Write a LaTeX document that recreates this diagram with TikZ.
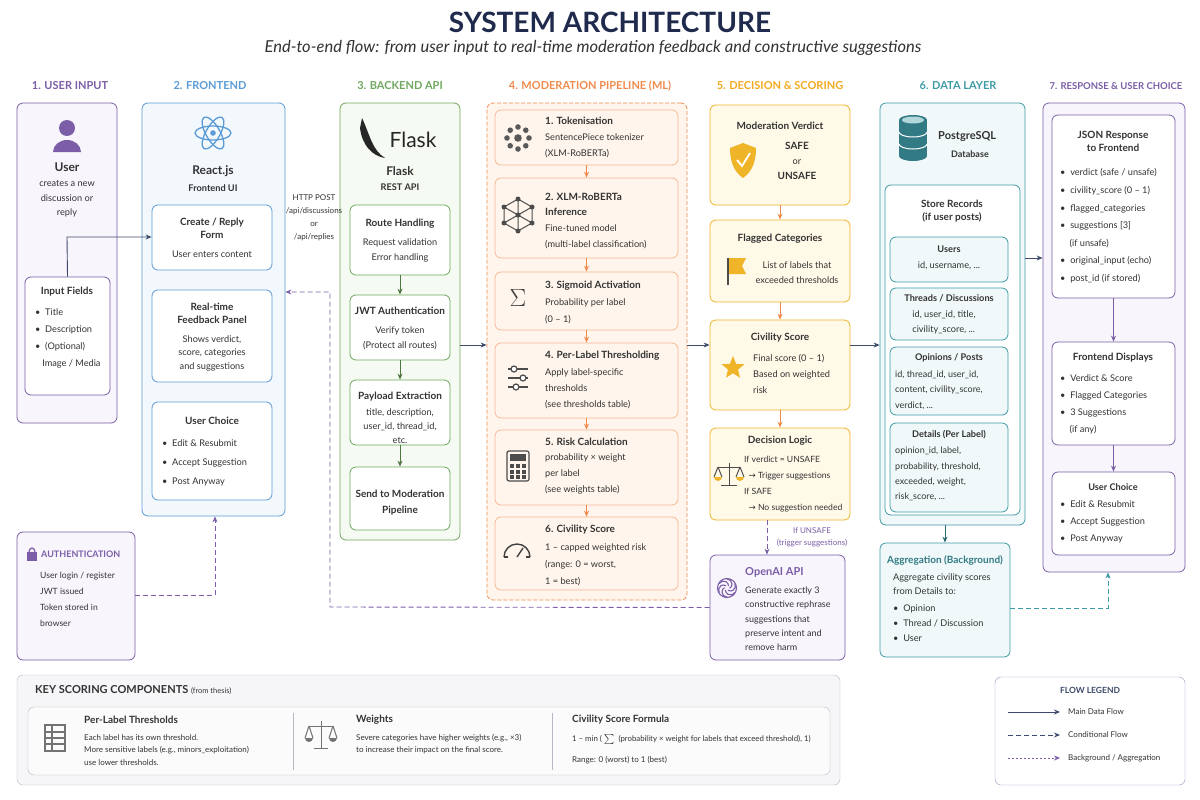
\documentclass[tikz,border=0pt]{standalone}
\usepackage{fontspec}
\setmainfont{Lato}
\newfontfamily\dejavu{DejaVu Sans}
\usetikzlibrary{arrows.meta,fit,shapes.geometric}
\definecolor{cpur}{HTML}{7B5EA7}\definecolor{fpur}{HTML}{F8F5FC}
\definecolor{cblu}{HTML}{5B9BD5}\definecolor{fblu}{HTML}{F3F8FD}
\definecolor{cgrn}{HTML}{6FA85E}\definecolor{fgrn}{HTML}{F5FAF2}
\definecolor{cora}{HTML}{F08A4B}\definecolor{fora}{HTML}{FFF5EC}
\definecolor{cyel}{HTML}{F0B429}\definecolor{fyel}{HTML}{FFF9E8}
\definecolor{ctea}{HTML}{3E9AA5}\definecolor{ftea}{HTML}{F0F8F9}
\definecolor{navy}{HTML}{1F2A4D}\definecolor{txt}{HTML}{333333}
\definecolor{main}{HTML}{3D4A6B}\definecolor{cgry}{HTML}{B8B8C4}\definecolor{fgry}{HTML}{F6F6F8}
\newcommand{\arrw}{{\dejavu →}}
\begin{document}
\begin{tikzpicture}[x=1pt,y=-1pt,
  every node/.style={text=txt,font=\fontsize{9.2}{12}\selectfont,inner sep=0},
  bx/.style 2 args={draw=#1,fill=#2,rounded corners=6pt,line width=0.8pt},
  t/.style={font=\fontsize{10}{13}\selectfont\bfseries},
  hd/.style={font=\fontsize{11}{12}\selectfont\bfseries,text=#1},
  ls/.style={align=left,anchor=west},
  ar/.style={-{Stealth[length=6pt,width=5pt]},line width=0.9pt,draw=#1},
  dar/.style={ar=#1,dash pattern=on 5pt off 3pt},
  bar/.style={ar=#1,dash pattern=on 2pt off 2pt,line width=0.6pt}]
\useasboundingbox (0,0) rectangle (1200,800);
\fill[white] (0,0) rectangle (1200,800);
\node[font=\fontsize{28}{30}\selectfont\bfseries,text=navy] (title) at (610,22) {SYSTEM ARCHITECTURE};
\node[font=\fontsize{16.5}{18}\selectfont\itshape,text=txt] (sub) at (593,48) {End-to-end flow: from user input to real-time moderation feedback and constructive suggestions};
% headers
\node[hd=cpur] (h1) at (70,86) {1. USER INPUT};
\node[hd=cblu] (h2) at (210,86) {2. FRONTEND};
\node[hd=cgrn] (h3) at (400,86) {3. BACKEND API};
\node[hd=cora] (h4) at (590,86) {4. MODERATION PIPELINE (ML)};
\node[hd=cyel!80!orange] (h5) at (780,86) {5. DECISION \& SCORING};
\node[hd=ctea] (h6) at (958,86) {6. DATA LAYER};
\node[hd=cpur,font=\fontsize{9.5}{12}\selectfont\bfseries] (h7) at (1116,86) {7. RESPONSE \& USER CHOICE};
% ---------- column 1
\node[bx={cpur}{fpur},fit={(17,103)(117,423)}] (c1) {};
\fill[cpur] (67,128) circle (8);
\fill[cpur] (53,152) arc(180:360:14 and 12) -- cycle;
\node[t,font=\fontsize{12}{12}\selectfont\bfseries] (user) at (67,167) {User};
\node[align=center,font=\fontsize{9.2}{14.5}\selectfont] (userd) at (67,199) {creates a new\\discussion or\\reply};
\node[bx={cpur}{white},fit={(25,277)(110,395)}] (inp) {};
\node[t] (inpt) at (67,292) {Input Fields};
\node[ls,font=\fontsize{9.2}{17}\selectfont] (inpl) at (35,338) {\textbullet\ \ Title\\\textbullet\ \ Description\\\textbullet\ \ (Optional)\\\ \ \ Image / Media};
% ---------- column 2
\node[bx={cblu}{fblu},fit={(142,103)(285,516)}] (c2) {};
\begin{scope}[shift={(213,133)}]
\draw[cblu,line width=1.3pt] (0,0) ellipse (18 and 7);
\draw[cblu,line width=1.3pt,rotate=60] (0,0) ellipse (18 and 7);
\draw[cblu,line width=1.3pt,rotate=-60] (0,0) ellipse (18 and 7);
\fill[cblu] (0,0) circle (2.8);
\end{scope}
\node[t,font=\fontsize{12}{12}\selectfont\bfseries] (react) at (213,171) {React.js};
\node[t,font=\fontsize{9.2}{12}\selectfont\bfseries] (reactd) at (213,188) {Frontend UI};
\node[bx={cblu}{white},fit={(152,205)(272,270)}] (form) {};
\node[t,align=center] at (212,228) {Create / Reply\\Form};
\node at (212,254) {User enters content};
\node[bx={cblu}{white},fit={(152,290)(272,382)}] (fb) {};
\node[t,align=center] at (212,313) {Real-time\\Feedback Panel};
\node[align=center,font=\fontsize{9.2}{13.5}\selectfont] at (212,353) {Shows verdict,\\score, categories\\and suggestions};
\node[bx={cblu}{white},fit={(152,402)(272,500)}] (uc) {};
\node[t] at (212,421) {User Choice};
\node[ls,font=\fontsize{9.2}{19}\selectfont] at (162,463) {\textbullet\ \ Edit \& Resubmit\\\textbullet\ \ Accept Suggestion\\\textbullet\ \ Post Anyway};
% ---------- column 3
\node[bx={cgrn}{fgrn},fit={(340,103)(460,540)}] (c3) {};
\fill[black!85] (362,118) .. controls (370,135) and (372,150) .. (385,158) .. controls (372,156) and (362,145) .. (360,128) -- cycle;
\node[font=\fontsize{21}{22}\selectfont\rmfamily,text=black!85] (flaskl) at (413,140) {Flask};
\node[t,font=\fontsize{12}{12}\selectfont\bfseries] (flask) at (400,171) {Flask};
\node[t,font=\fontsize{9.2}{12}\selectfont\bfseries] at (400,187) {REST API};
\node[bx={cgrn}{white},fit={(350,205)(450,275)}] (route) {};
\node[t] at (400,224) {Route Handling};
\node[align=center,font=\fontsize{9.2}{15}\selectfont] at (400,250) {Request validation\\Error handling};
\node[bx={cgrn}{white},fit={(350,295)(450,360)}] (jwt) {};
\node[t] at (400,311) {JWT Authentication};
\node[align=center,font=\fontsize{9.2}{15}\selectfont] at (400,338) {Verify token\\(Protect all routes)};
\node[bx={cgrn}{white},fit={(350,380)(450,445)}] (pay) {};
\node[t] at (400,397) {Payload Extraction};
\node[align=center,font=\fontsize{9.2}{14}\selectfont] at (400,426) {title, description,\\user\_id, thread\_id,\\etc.};
\node[bx={cgrn}{white},fit={(350,467)(450,530)}] (send) {};
\node[t,align=center,font=\fontsize{10}{16}\selectfont\bfseries] at (400,503) {Send to Moderation\\Pipeline};
\node[align=center,font=\fontsize{8}{13}\selectfont] (http) at (314,218) {HTTP POST\\/api/discussions\\or\\/api/replies};
\draw[ar=cgrn!70!black] (route) -- (jwt);
\draw[ar=cgrn!70!black] (jwt) -- (pay);
\draw[ar=cgrn!70!black] (pay) -- (send);
% ---------- column 4
\node[bx={cora}{fora},dash pattern=on 4pt off 2pt,fit={(487,103)(687,600)}] (c4) {};
\node[bx={cora!60}{fora},fit={(495,110)(678,165)}] (s1) {};
\node[bx={cora!60}{fora},fit={(495,178)(678,258)}] (s2) {};
\node[bx={cora!60}{fora},fit={(495,272)(678,330)}] (s3) {};
\node[bx={cora!60}{fora},fit={(495,343)(678,418)}] (s4) {};
\node[bx={cora!60}{fora},fit={(495,430)(678,505)}] (s5) {};
\node[bx={cora!60}{fora},fit={(495,517)(678,590)}] (s6) {};
\foreach \a in {0,45,...,315} \fill[black!65] (518,138)++(\a:11) circle (2.8);
\fill[black!65] (518,138) circle (3.8);
\begin{scope}[shift={(518,215)},black!70,line width=1pt]
\draw (0,-16)--(14,-8)--(14,8)--(0,16)--(-14,8)--(-14,-8)--cycle;
\draw (0,-16)--(0,16) (-14,-8)--(14,8) (14,-8)--(-14,8);
\foreach \p in {(0,-16),(14,-8),(14,8),(0,16),(-14,8),(-14,-8),(0,0)} \fill \p circle (2.5);
\end{scope}
\node[font=\fontsize{26}{26}\selectfont,text=black!75] at (518,298) {$\Sigma$};
\begin{scope}[shift={(518,378)},black!70,line width=1.2pt]
\foreach \yy/\xx in {-9/-4,0/5,9/-2}{\draw (-10,\yy)--(10,\yy); \fill[white] (\xx,\yy) circle (3); \draw (\xx,\yy) circle (3);}
\end{scope}
\begin{scope}[shift={(518,466)}]
\draw[black!70,line width=1.2pt,rounded corners=2pt] (-11,-15) rectangle (11,15);
\fill[black!70] (-8,-12) rectangle (8,-5);
\foreach \i in {-6,0,6}\foreach \j in {0,6,11}\fill[black!70] (\i-2,\j-2) rectangle (\i+2,\j+2);
\end{scope}
\begin{scope}[shift={(517,553)},black!75,line width=1.4pt]
\draw (-13,4) arc(180:360:13); \draw (0,4)--(6,-5); \draw (-13,4)--(-9,4) (13,4)--(9,4);
\end{scope}
\node[ls,t] at (545,121) {1. Tokenisation};
\node[ls,font=\fontsize{9.2}{16}\selectfont] at (545,146) {SentencePiece tokenizer\\(XLM-RoBERTa)};
\node[ls,t,font=\fontsize{10}{15}\selectfont\bfseries] at (545,204) {2. XLM-RoBERTa\\Inference};
\node[ls,font=\fontsize{9.2}{16}\selectfont] at (545,237) {Fine-tuned model\\(multi-label classification)};
\node[ls,t] at (545,286) {3. Sigmoid Activation};
\node[ls,font=\fontsize{9.2}{17}\selectfont] at (545,311) {Probability per label\\(0 – 1)};
\node[ls,t] at (545,356) {4. Per-Label Thresholding};
\node[ls,font=\fontsize{9.2}{16}\selectfont] at (545,389) {Apply label-specific\\thresholds\\(see thresholds table)};
\node[ls,t] at (545,442) {5. Risk Calculation};
\node[ls,font=\fontsize{9.2}{16}\selectfont] at (545,474) {probability × weight\\per label\\(see weights table)};
\node[ls,t] at (545,530) {6. Civility Score};
\node[ls,font=\fontsize{9.2}{17}\selectfont] at (545,565) {1 – capped weighted risk\\(range: 0 = worst,\\1 = best)};
\draw[ar=cora] (s1) -- (s2); \draw[ar=cora] (s2) -- (s3); \draw[ar=cora] (s3) -- (s4);
\draw[ar=cora] (s4) -- (s5); \draw[ar=cora] (s5) -- (s6);
% ---------- column 5
\node[bx={cyel}{fyel},fit={(710,105)(850,205)}] (ver) {};
\node[t] at (780,126) {Moderation Verdict};
\fill[cyel] (743,143) -- (756,148) .. controls (756,165) and (750,173) .. (743,178) .. controls (736,173) and (730,165) .. (730,148) -- cycle;
\draw[white,line width=1.8pt] (737,160)--(742,166)--(750,153);
\node[t,align=center,font=\fontsize{10}{15}\selectfont\bfseries] at (797,161) {SAFE\\{\normalfont\fontsize{9.2}{12}\selectfont or}\\UNSAFE};
\node[bx={cyel}{fyel},fit={(710,220)(850,302)}] (flag) {};
\node[t] at (780,239) {Flagged Categories};
\draw[black!70,line width=1.2pt] (728,285)--(728,258);
\fill[cyel] (729,258) -- (746,258) -- (742,266) -- (746,274) -- (729,274) -- cycle;
\node[align=center,font=\fontsize{9.2}{15}\selectfont] at (797,273) {List of labels that\\exceeded thresholds};
\node[bx={cyel}{fyel},fit={(710,320)(850,410)}] (civ) {};
\node[t] at (780,338) {Civility Score};
\node[star,star points=5,star point ratio=2.3,fill=cyel,minimum size=24pt] at (733,368) {};
\node[ls,font=\fontsize{9.2}{16}\selectfont] at (753,374) {Final score (0 – 1)\\Based on weighted\\risk};
\node[bx={cyel}{fyel},fit={(710,428)(850,520)}] (dec) {};
\node[t] at (780,441) {Decision Logic};
\begin{scope}[shift={(729,475)},black!70,line width=1pt]
\draw (0,-12)--(0,10) (-8,10)--(8,10) (-11,-8)--(11,-8);
\draw (-11,-8)--(-15,2) (-11,-8)--(-7,2) (11,-8)--(7,2) (11,-8)--(15,2);
\fill[cyel] (-15,2) arc(180:0:4) -- cycle; \fill[cyel] (7,2) arc(180:0:4) -- cycle;
\end{scope}
\node[ls,font=\fontsize{8.6}{16}\selectfont] at (744,484) {If verdict = UNSAFE\\\ \ \arrw\ Trigger suggestions\\If SAFE\\\ \ \arrw\ No suggestion needed};
\node[bx={cpur}{fpur},fit={(710,555)(845,660)}] (oai) {};
\node[ls,t,text=cpur,font=\fontsize{11}{12}\selectfont\bfseries] at (745,572) {OpenAI API};
\node[ls,font=\fontsize{9}{14.3}\selectfont] at (745,619) {Generate exactly 3\\constructive rephrase\\suggestions that\\preserve intent and\\remove harm};
\foreach \a in {0,60,...,300} \draw[cpur,line width=1.1pt,rotate around={\a:(727,588)}] (727,588) ++(0,-9) arc(-90:60:5);
\draw[cpur,line width=1.1pt] (727,588) circle (9.5);
\node[align=center,text=cpur,font=\fontsize{8}{12}\selectfont] (ifu) at (812,537) {If UNSAFE\\(trigger suggestions)};
\draw[ar=cora] (ver) -- (flag); \draw[ar=cora] (flag) -- (civ); \draw[ar=cora] (civ) -- (dec);
\draw[dar=cpur] (dec.south -| 767,0) -- (oai.north -| 767,0);
% ---------- column 6
\node[bx={ctea}{ftea},fit={(880,103)(1025,525)}] (c6) {};
\begin{scope}[shift={(913,138)}]
\fill[ctea!80!black] (-14,-18) rectangle (14,18);
\foreach \yy in {-18,-6,6,18} \fill[ctea!80!black] (0,\yy) ellipse (14 and 5);
\foreach \yy in {-6,6} \draw[white,line width=1pt] (-14,\yy) arc(180:0:14 and 5);
\fill[ctea!40] (0,-18) ellipse (11 and 3.5);
\end{scope}
\node[t,font=\fontsize{11}{12}\selectfont\bfseries,ls] at (938,136) {PostgreSQL};
\node[t,font=\fontsize{9}{12}\selectfont\bfseries] at (970,154) {Database};
\node[bx={ctea}{white},fit={(885,185)(1020,515)}] (store) {};
\node[t,align=center] at (952,211) {Store Records\\(if user posts)};
\node[bx={ctea}{ftea},fit={(890,237)(1008,282)}] (tu) {};
\node[t,font=\fontsize{9.2}{12}\selectfont\bfseries] at (949,249) {Users};
\node at (949,266) {id, username, ...};
\node[bx={ctea}{ftea},fit={(890,288)(1008,340)}] (tt) {};
\node[t,font=\fontsize{9.2}{12}\selectfont\bfseries] at (949,298) {Threads / Discussions};
\node[align=left,font=\fontsize{9.2}{15}\selectfont] at (944,322) {id, user\_id, title,\\civility\_score, ...};
\node[bx={ctea}{ftea},fit={(890,347)(1008,415)}] (to) {};
\node[t,font=\fontsize{9.2}{12}\selectfont\bfseries] at (949,358) {Opinions / Posts};
\node[ls,font=\fontsize{9}{15.5}\selectfont] at (895,390) {id, thread\_id, user\_id,\\content, civility\_score,\\verdict, ...};
\node[bx={ctea}{ftea},fit={(890,423)(1008,512)}] (td) {};
\node[t,font=\fontsize{9.2}{12}\selectfont\bfseries] at (949,435) {Details (Per Label)};
\node[ls,font=\fontsize{9}{15.3}\selectfont] at (895,474) {opinion\_id, label,\\probability, threshold,\\exceeded, weight,\\risk\_score, ...};
\node[bx={ctea}{ftea},fit={(880,543)(1010,657)}] (agg) {};
\node[t,text=ctea!80!black] at (945,560) {Aggregation (Background)};
\node[ls,font=\fontsize{9.2}{14}\selectfont] at (893,584) {Aggregate civility scores\\from Details to:};
\node[ls,font=\fontsize{9.2}{15}\selectfont] at (893,623) {\textbullet\ \ Opinion\\\textbullet\ \ Thread / Discussion\\\textbullet\ \ User};
\draw[ar=ctea!70!black] (c6.south -| agg.north) -- (agg.north);
% ---------- column 7
\node[bx={cpur}{fpur},fit={(1043,103)(1185,572)}] (c7) {};
\node[bx={cpur}{white},fit={(1052,115)(1175,298)}] (json) {};
\node[t,align=center] at (1113,141) {JSON Response\\to Frontend};
\node[ls,font=\fontsize{9.2}{17.6}\selectfont] at (1060,226) {\textbullet\ \ verdict (safe / unsafe)\\\textbullet\ \ civility\_score (0 – 1)\\\textbullet\ \ flagged\_categories\\\textbullet\ \ suggestions [3]\\\ \ \ \ (if unsafe)\\\textbullet\ \ original\_input (echo)\\\textbullet\ \ post\_id (if stored)};
\node[bx={cpur}{white},fit={(1052,342)(1175,445)}] (fd) {};
\node[t] at (1113,358) {Frontend Displays};
\node[ls,font=\fontsize{9.2}{17}\selectfont] at (1060,404) {\textbullet\ \ Verdict \& Score\\\textbullet\ \ Flagged Categories\\\textbullet\ \ 3 Suggestions\\\ \ \ \ (if any)};
\node[bx={cpur}{white},fit={(1052,472)(1175,555)}] (uc7) {};
\node[t,font=\fontsize{9.2}{12}\selectfont\bfseries] at (1113,487) {User Choice};
\node[ls,font=\fontsize{9.2}{17}\selectfont] at (1060,522) {\textbullet\ \ Edit \& Resubmit\\\textbullet\ \ Accept Suggestion\\\textbullet\ \ Post Anyway};
\draw[ar=cpur] (json) -- (fd); \draw[ar=cpur] (fd) -- (uc7);
% ---------- auth
\node[bx={cpur}{fpur},fit={(17,532)(135,660)}] (auth) {};
\fill[cpur] (27,552) rectangle (37,561); \draw[cpur,line width=1.2pt] (29,552) arc(180:360:3 and 4);
\node[ls,t,text=cpur,font=\fontsize{9}{12}\selectfont\bfseries] at (41,554) {AUTHENTICATION};
\node[ls,font=\fontsize{8.6}{16}\selectfont] at (40,599) {User login / register\\JWT issued\\Token stored in\\browser};
% ---------- main connectors
\coordinate (ifx) at (67,237);
\draw[ar=main] (inp.north) -- (ifx) -- (form.west |- ifx);
\draw[ar=main] (c3.east |- 0,345) -- (c4.west |- 0,345);
\draw[ar=main] (c4.east |- 0,345) -- (civ.west |- 0,345);
\draw[ar=main] (civ.east |- 0,345) -- (c6.west |- 0,345);
\draw[ar=main] (c6.east |- 0,258) -- (c7.west |- 0,258);
\coordinate (r1) at (330,607); \coordinate (r2) at (330,292);
\draw[dar=cpur] (oai.west) -- (r1) -- (r2) -- (c2.east |- r2);
\coordinate (a1) at (215,595);
\draw[dar=cpur] (auth.east |- a1) -- (a1) -- (c2.south -| a1);
\coordinate (g1) at (1108,608);
\draw[dar=ctea] (agg.east |- g1) -- (g1) -- (c7.south -| g1);
% ---------- key scoring
\node[draw=cgry,fill=fgry,rounded corners=6pt,fit={(17,675)(840,785)}] (key) {};
\node[ls] at (35,690) {\bfseries\fontsize{11}{12}\selectfont KEY SCORING COMPONENTS\ {\normalfont\fontsize{7.5}{12}\selectfont (from thesis)}};
\node[draw=cgry,fill=white!60!fgry,rounded corners=6pt,fit={(28,707)(830,775)}] (keyin) {};
\draw[cgry] (293,713)--(293,770) (552,713)--(552,770);
\begin{scope}[shift={(55,738)},black!55,line width=1.2pt]
\draw (-10,-13) rectangle (10,13); \foreach \yy in {-6,0,6} \draw (-10,\yy)--(10,\yy); \draw (-3,-13)--(-3,13);
\end{scope}
\node[ls,t] at (84,720) {Per-Label Thresholds};
\node[ls,font=\fontsize{8}{12.5}\selectfont] at (84,750) {Each label has its own threshold.\\More sensitive labels (e.g., minors\_exploitation)\\use lower thresholds.};
\begin{scope}[shift={(321,735)},black!55,line width=1pt]
\draw (0,-14)--(0,13) (-7,13)--(7,13) (-12,-9)--(12,-9);
\draw (-12,-9)--(-16,3) (-12,-9)--(-8,3) (12,-9)--(8,3) (12,-9)--(16,3);
\fill (-16,3) arc(180:0:4) -- cycle; \fill (8,3) arc(180:0:4) -- cycle;
\end{scope}
\node[ls,t] at (356,720) {Weights};
\node[ls,font=\fontsize{8}{12.5}\selectfont] at (356,744) {Severe categories have higher weights (e.g., ×3)\\to increase their impact on the final score.};
\node[ls,t] at (572,720) {Civility Score Formula};
\node[ls,font=\fontsize{7.8}{12}\selectfont] at (572,739) {1 – min ( $\sum$ \ (probability × weight for labels that exceed threshold), 1)};
\node[ls,font=\fontsize{8}{12}\selectfont] at (572,760) {Range: 0 (worst) to 1 (best)};
% ---------- legend
\node[draw=cpur!70,fill=white,rounded corners=6pt,fit={(995,677)(1185,785)}] (leg) {};
\node[font=\fontsize{8.5}{12}\selectfont\bfseries,text=main] at (1090,690) {FLOW LEGEND};
\coordinate (l1a) at (1008,712); \coordinate (l1b) at (1060,712);
\coordinate (l2a) at (1008,735); \coordinate (l2b) at (1060,735);
\coordinate (l3a) at (1008,758); \coordinate (l3b) at (1060,758);
\draw[ar=main] (l1a) -- (l1b); \draw[dar=main] (l2a) -- (l2b); \draw[bar=cpur] (l3a) -- (l3b);
\node[ls,font=\fontsize{8}{12}\selectfont] at (1068,712) {Main Data Flow};
\node[ls,font=\fontsize{8}{12}\selectfont] at (1068,735) {Conditional Flow};
\node[ls,font=\fontsize{8}{12}\selectfont] at (1068,758) {Background / Aggregation};
\end{tikzpicture}
\end{document}
